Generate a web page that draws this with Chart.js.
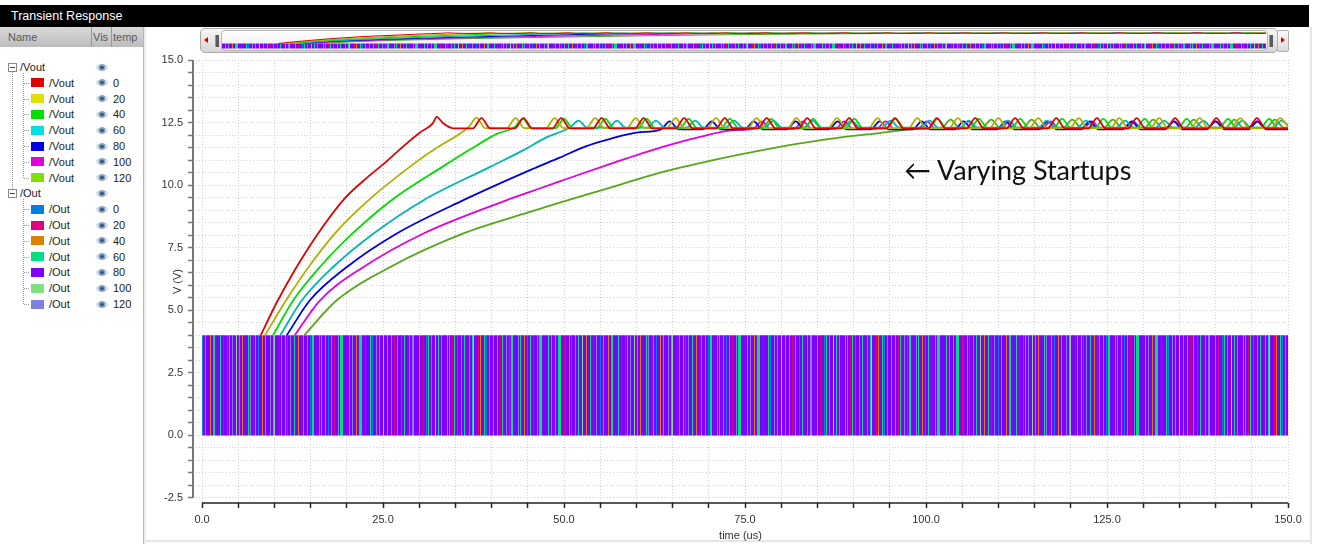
<!DOCTYPE html>
<html>
<head>
<meta charset="utf-8">
<script src="https://cdn.jsdelivr.net/npm/chart.js@4/dist/chart.umd.min.js"></script>
<style>
  html, body { margin: 0; padding: 0; background: #fff; }
  body { width: 1317px; height: 544px; position: relative; overflow: hidden; font-family: "Liberation Sans", Arial, sans-serif; }
  #titlebar { position: absolute; left: 0; top: 5px; width: 1309px; height: 22px; background: #000; color: #fff;
              font-size: 12.5px; line-height: 22px; padding-left: 11px; box-sizing: border-box; }
  #hdr { position: absolute; left: 0; top: 27px; width: 143px; height: 20px; background: linear-gradient(#d9d9d9, #bcbcbc);
         font-size: 11px; color: #5a5a5a; line-height: 20px; }
  #hdr span { position: absolute; top: 0; }
  #hdr .sep { width: 1px; height: 20px; background: #9a9a9a; }
  #tree { position: absolute; left: 0; top: 0; width: 143px; height: 544px; font-size: 11px; color: #222; }
  .row { position: absolute; height: 16px; line-height: 16px; }
  .sw { position: absolute; width: 13px; height: 9px; }
  .eye { position: absolute; width: 12px; height: 7px; border-radius: 50%;
         background: radial-gradient(circle, #3a5a82 0 1.6px, #8aa3c2 2.1px 3.2px, #d3dce7 3.7px); }
  .box { position: absolute; width: 7px; height: 7px; border: 1px solid #8a8a8a; background: #fff; }
  .box:after { content: ""; position: absolute; left: 1px; top: 3px; width: 5px; height: 1px; background: #444; }
  .vline { position: absolute; width: 0; border-left: 1px dotted #9a9a9a; }
  .hline { position: absolute; height: 0; border-top: 1px dotted #9a9a9a; }
  #sepL { position: absolute; left: 143px; top: 27px; width: 1px; height: 517px; background: #b5b5b5; }
  #sepL2 { position: absolute; left: 144px; top: 27px; width: 2px; height: 517px; background: #ececec; }
  #sepR { position: absolute; left: 1310px; top: 27px; width: 2px; height: 517px; background: #e6e6e6; }
  #sepB { position: absolute; left: 146px; top: 540px; width: 1166px; height: 2px; background: #e6e6e6; }
  #scroll { position: absolute; left: 200px; top: 28px; width: 1076px; height: 23px; border: 1px solid #a9a9a9; border-radius: 5px;
            background: linear-gradient(#f7f7f7, #d6d6d6); }
  #track { position: absolute; left: 221px; top: 30px; width: 1045px; height: 19px; border: 1px solid #b9b9b9; border-radius: 4px;
           background: linear-gradient(#ffffff, #ececec); }
  .grip { position: absolute; top: 35px; width: 3px; height: 12px; background: #5a5a5a; border-left: 1px solid #999; }
  #btnR { position: absolute; left: 1277px; top: 30px; width: 10px; height: 20px; border: 1px solid #b0b0b0; border-radius: 2px;
          background: linear-gradient(#fafafa, #dcdcdc); }
  .arrL { position: absolute; left: 204px; top: 37px; width: 0; height: 0; border-right: 4px solid #e00000;
          border-top: 3px solid transparent; border-bottom: 3px solid transparent; }
  .arrR { position: absolute; left: 1281px; top: 37px; width: 0; height: 0; border-left: 4px solid #e00000;
          border-top: 3px solid transparent; border-bottom: 3px solid transparent; }
  #mini { position: absolute; left: 222px; top: 31px; }
  #main { position: absolute; left: 147px; top: 53px; }
  #note { position: absolute; left: 904px; top: 153px; font-family: Lato, "DejaVu Sans", sans-serif; font-size: 27px; color: #111; white-space: nowrap; }
</style>
</head>
<body>
<div id="titlebar">Transient Response</div>
<div id="tree"></div>
<div id="hdr">
  <span style="left:8px">Name</span>
  <span class="sep" style="left:91px"></span>
  <span style="left:93px">Vis</span>
  <span class="sep" style="left:111px"></span>
  <span style="left:113px">temp</span>
</div>
<div id="sepL"></div><div id="sepL2"></div><div id="sepR"></div><div id="sepB"></div>

<div id="scroll"></div>
<span class="arrL"></span>
<div class="grip" style="left:215px"></div>
<div id="track"></div>
<canvas id="mini" width="1044" height="18"></canvas>
<div class="grip" style="left:1269px"></div>
<div id="btnR"></div>
<span class="arrR"></span>

<canvas id="main" width="1163" height="491"></canvas>
<div id="note">&#8592; Varying Startups</div>

<script>
// temperatures of the sweep (legend "temp" column)
const TEMPS = [0, 20, 40, 60, 80, 100, 120];

// legend swatch colours
const VOUT_COLORS = ['#e00000', '#e0e000', '#00e000', '#00e0e0', '#0000e0', '#e000e0', '#80e000'];
const OUT_COLORS = ['#0080e0', '#e0007f', '#e08000', '#00e080', '#8000ff', '#80e080', '#8080e0'];
// the traces look a bit darker than the swatches
const VOUT_LINE_COLORS = ['#e00000', '#b0b000', '#00dd00', '#00b4b8', '#0000e0', '#e000e0', '#56a818'];

// /Vout per temperature: [time (us), V]
const VOUT_0 = [[8.1,4.0],[10.3,5.3],[12.9,6.65],[16.1,8.1],[19.8,9.5],[22.8,10.3],[25.5,10.95],[27.8,11.55],[30.1,12.1],[31.9,12.48],[32.4,12.73],[33.3,12.47],[34.7,12.27],
  [37.4,12.27],[38.6,12.68],[39.8,12.27],[43.2,12.27],[44.4,12.68],[45.6,12.27],[48.4,12.27],[49.6,12.68],[50.8,12.27],
  [54.0,12.27],[55.2,12.68],[56.4,12.27],[59.8,12.27],[61.0,12.68],[62.2,12.27],[65.4,12.27],[66.6,12.68],[67.8,12.27],
  [71.0,12.27],[72.2,12.68],[73.4,12.27],[76.8,12.27],[78.0,12.68],[79.2,12.27],[82.4,12.27],[83.6,12.68],[84.8,12.27],
  [88.2,12.27],[89.4,12.68],[90.6,12.27],[94.5,12.27],[95.7,12.68],[96.9,12.27],[100.3,12.27],[101.5,12.68],[102.7,12.27],
  [105.6,12.27],[106.8,12.68],[108.0,12.27],[111.1,12.27],[112.3,12.68],[113.5,12.27],[116.8,12.27],[118.0,12.68],[119.2,12.27],
  [122.4,12.27],[123.6,12.68],[124.8,12.27],[127.9,12.27],[129.1,12.68],[130.3,12.27],[133.2,12.27],[134.4,12.68],[135.6,12.27],
  [138.9,12.27],[140.1,12.68],[141.3,12.27],[144.5,12.27],[145.7,12.68],[146.9,12.27],[150.0,12.27]];

const VOUT_20 = [[8.7,4.0],[11.5,5.35],[14.9,6.8],[18.6,8.15],[23.2,9.45],[29.0,10.8],[32.2,11.45],[36.1,12.15],[37.0,12.38],[37.9,12.7],[39.1,12.28],
  [42.1,12.28],[43.3,12.68],[44.5,12.28],[47.5,12.28],[48.7,12.68],[49.9,12.28],[53.1,12.28],[54.3,12.68],[55.5,12.28],
  [58.7,12.28],[59.9,12.68],[61.1,12.28],[64.2,12.28],[65.4,12.68],[66.6,12.28],[69.8,12.28],[71.0,12.68],[72.2,12.28],
  [75.4,12.28],[76.6,12.68],[77.8,12.28],[80.9,12.28],[82.1,12.68],[83.3,12.28],[86.5,12.28],[87.7,12.68],[88.9,12.28],
  [92.1,12.28],[93.3,12.68],[94.5,12.28],[97.6,12.28],[98.8,12.68],[100.0,12.28],[103.2,12.28],[104.4,12.68],[105.6,12.28],
  [108.8,12.28],[110.0,12.68],[111.2,12.28],[114.3,12.28],[115.5,12.68],[116.7,12.28],[119.9,12.28],[121.1,12.68],[122.3,12.28],
  [125.5,12.28],[126.7,12.68],[127.9,12.28],[131.0,12.28],[132.2,12.68],[133.4,12.28],[136.6,12.28],[137.8,12.68],[139.0,12.28],
  [142.2,12.28],[143.4,12.68],[144.6,12.28],[147.7,12.28],[148.9,12.68],[150.0,12.35]];

const VOUT_40 = [[9.8,4.0],[12.6,5.4],[16.5,6.8],[20.9,8.1],[26.4,9.45],[33.3,10.75],[37.0,11.42],[40.7,12.05],[43.1,12.3],[44.3,12.65],[45.5,12.27],
  [48.8,12.27],[50.0,12.65],[51.2,12.27],[54.5,12.27],[55.7,12.65],[56.9,12.27],[60.2,12.27],[61.4,12.65],[62.6,12.27],
  [66.0,12.27],[67.2,12.65],[68.4,12.27],[71.7,12.27],[72.9,12.65],[74.1,12.27],[77.4,12.27],[78.6,12.65],[79.8,12.27],
  [83.2,12.27],[84.4,12.65],[85.6,12.27],[88.9,12.27],[90.1,12.65],[91.3,12.27],[94.6,12.27],[95.8,12.65],[97.0,12.27],
  [100.4,12.27],[101.6,12.65],[102.8,12.27],[106.1,12.27],[107.3,12.65],[108.5,12.27],[111.8,12.27],[113.0,12.65],[114.2,12.27],
  [117.6,12.27],[118.8,12.65],[120.0,12.27],[123.3,12.27],[124.5,12.65],[125.7,12.27],[129.0,12.27],[130.2,12.65],[131.4,12.27],
  [134.8,12.27],[136.0,12.65],[137.2,12.27],[140.5,12.27],[141.7,12.65],[142.9,12.27],[146.2,12.27],[147.4,12.65],[148.6,12.27],
  [150.0,12.27]];

const VOUT_60 = [[10.8,4.0],[13.8,5.4],[18.1,6.73],[23.7,8.07],[30.6,9.4],[39.8,10.73],[44.4,11.4],[47.5,11.9],[50.8,12.3],[52.0,12.58],[53.2,12.3],
  [56.1,12.3],[57.3,12.58],[58.5,12.3],[61.5,12.3],[62.7,12.58],[63.9,12.3],[66.9,12.3],[68.1,12.58],[69.3,12.3],
  [72.3,12.3],[73.5,12.58],[74.7,12.3],[77.7,12.3],[78.9,12.58],[80.1,12.3],[83.1,12.3],[84.3,12.58],[85.5,12.3],
  [88.5,12.3],[89.7,12.58],[90.9,12.3],[93.9,12.3],[95.1,12.58],[96.3,12.3],[99.3,12.3],[100.5,12.58],[101.7,12.3],
  [104.7,12.3],[105.9,12.58],[107.1,12.3],[110.1,12.3],[111.3,12.58],[112.5,12.3],[115.5,12.3],[116.7,12.58],[117.9,12.3],
  [120.9,12.3],[122.1,12.58],[123.3,12.3],[126.3,12.3],[127.5,12.58],[128.7,12.3],[131.7,12.3],[132.9,12.58],[134.1,12.3],
  [137.1,12.3],[138.3,12.58],[139.5,12.3],[142.5,12.3],[143.7,12.58],[144.9,12.3],[147.9,12.3],[149.1,12.58],[150.0,12.4]];

const VOUT_80 = [[11.7,4.0],[14.9,5.4],[20.0,6.73],[26.9,8.07],[36.1,9.4],[45.3,10.6],[49.4,11.1],[53.0,11.55],[56.4,11.85],[60.0,12.1],[63.4,12.23],[64.6,12.55],[65.8,12.23],
  [69.2,12.23],[70.4,12.55],[71.6,12.23],[75.0,12.23],[76.2,12.55],[77.4,12.23],[80.8,12.23],[82.0,12.55],[83.2,12.23],
  [86.6,12.23],[87.8,12.55],[89.0,12.23],[92.4,12.23],[93.6,12.55],[94.8,12.23],[98.2,12.23],[99.4,12.55],[100.6,12.23],
  [104.0,12.23],[105.2,12.55],[106.4,12.23],[109.8,12.23],[111.0,12.55],[112.2,12.23],[115.6,12.23],[116.8,12.55],[118.0,12.23],
  [121.4,12.23],[122.6,12.55],[123.8,12.23],[127.2,12.23],[128.4,12.55],[129.6,12.23],[133.0,12.23],[134.2,12.55],[135.4,12.23],
  [138.8,12.23],[140.0,12.55],[141.2,12.23],[144.6,12.23],[145.8,12.55],[147.0,12.23],[150.0,12.23]];

const VOUT_100 = [[12.8,4.0],[16.3,5.4],[22.3,6.73],[30.6,8.07],[42.1,9.4],[45.3,9.73],[49.4,10.15],[56.4,10.85],[63.3,11.5],[68.8,11.93],[73.4,12.2],[76.1,12.25],[77.3,12.55],[78.5,12.25],
  [81.8,12.25],[83.0,12.55],[84.2,12.25],[87.5,12.25],[88.7,12.55],[89.9,12.25],[93.2,12.25],[94.4,12.55],[95.6,12.25],
  [98.9,12.25],[100.1,12.55],[101.3,12.25],[104.6,12.25],[105.8,12.55],[107.0,12.25],[110.3,12.25],[111.5,12.55],[112.7,12.25],
  [116.0,12.25],[117.2,12.55],[118.4,12.25],[121.7,12.25],[122.9,12.55],[124.1,12.25],[127.4,12.25],[128.6,12.55],[129.8,12.25],
  [133.1,12.25],[134.3,12.55],[135.5,12.25],[138.8,12.25],[140.0,12.55],[141.2,12.25],[144.5,12.25],[145.7,12.55],[146.9,12.25],
  [150.0,12.25]];

const VOUT_120 = [[14.1,4.0],[18.6,5.4],[26.0,6.73],[36.1,8.07],[45.3,8.93],[49.4,9.3],[56.4,9.9],[63.3,10.5],[70.6,11.0],[76.5,11.35],[82.6,11.67],[88.0,11.9],[93.6,12.08],[99.0,12.25],
  [102.2,12.3],[103.4,12.62],[104.6,12.3],[107.8,12.3],[109.0,12.62],[110.2,12.3],[113.4,12.3],[114.6,12.62],[115.8,12.3],
  [119.0,12.3],[120.2,12.62],[121.4,12.3],[124.6,12.3],[125.8,12.62],[127.0,12.3],[130.2,12.3],[131.4,12.62],[132.6,12.3],
  [135.8,12.3],[137.0,12.62],[138.2,12.3],[141.4,12.3],[142.6,12.62],[143.8,12.3],[147.0,12.3],[148.2,12.62],[149.4,12.3],
  [150.0,12.3]];

const VOUT_SERIES = [VOUT_0, VOUT_20, VOUT_40, VOUT_60, VOUT_80, VOUT_100, VOUT_120];

// /Out: switching between 0 V and 4 V over the whole run
const OUT_TIMES = [0, 150];
const OUT_HIGH = 4.0;
const OUT_LOW = 0.0;

// axis labels
const X_LABELS = [0, 25, 50, 75, 100, 125, 150];
const Y_LABELS = [-2.5, 0, 2.5, 5, 7.5, 10, 12.5, 15];

// stripe layout of the dense switching band (one char = one pixel column)
// b=0 k=20 o=40 g=60 p=80 l=100 v=120
const BAND_STRIPES =
  'pppgppvpppoppgggpppkppppgpbpppvppgppplpppopppgppkppvpppbppgppppoppvgpppppgppkpppbpgppvppplppgppopppppgpvppkpgppbpppopp' +
  'gppppvppglppppkpopppgpbppvpppgpppoppkpgpppvppbpggpppppvpgpppoppbppgppkpppvpgggppp';
const STRIPE_KEYS = ['b', 'k', 'o', 'g', 'p', 'l', 'v'];

function stripePattern(ctx, key, color) {
  const c = document.createElement('canvas');
  c.width = BAND_STRIPES.length;
  c.height = 4;
  const g = c.getContext('2d');
  g.fillStyle = color;
  for (let i = 0; i < BAND_STRIPES.length; i++) {
    if (BAND_STRIPES[i] === key) g.fillRect(i, 0, 1, 4);
  }
  return ctx.createPattern(c, 'repeat');
}

function buildDatasets(ctx, lineWidth) {
  const sets = [];
  // Vout first so they sit on top of the band
  VOUT_SERIES.forEach((d, i) => {
    sets.push({
      label: '/Vout ' + TEMPS[i],
      data: d,
      borderColor: VOUT_LINE_COLORS[i],
      borderWidth: lineWidth,
      pointRadius: 0,
      fill: false,
      cubicInterpolationMode: 'monotone'
    });
  });
  TEMPS.forEach((t, i) => {
    sets.push({
      label: '/Out ' + t,
      data: OUT_TIMES.map(x => [x, OUT_HIGH]),
      borderColor: 'rgba(0,0,0,0)',
      borderWidth: 0,
      pointRadius: 0,
      fill: { value: OUT_LOW },
      backgroundColor: stripePattern(ctx, STRIPE_KEYS[i], OUT_COLORS[i])
    });
  });
  return sets;
}

// ---- left tree panel ----
function buildTree() {
  const tree = document.getElementById('tree');
  const ROW_H = 15.8;
  let html = '';
  let y = 67;
  [['/Vout', VOUT_COLORS], ['/Out', OUT_COLORS]].forEach(([name, colors]) => {
    const gy = y;
    html += `<div class="box" style="left:8px;top:${gy - 4}px"></div>`;
    html += `<div class="row" style="left:20px;top:${gy - 8}px">${name}</div>`;
    html += `<div class="eye" style="left:96px;top:${gy - 3.5}px"></div>`;
    y += ROW_H;
    TEMPS.forEach((t, i) => {
      html += `<div class="hline" style="left:24px;top:${Math.round(y)}px;width:5px"></div>`;
      html += `<div class="sw" style="left:31px;top:${y - 4.5}px;background:${colors[i]}"></div>`;
      html += `<div class="row" style="left:49px;top:${y - 8}px">${name}</div>`;
      html += `<div class="eye" style="left:96px;top:${y - 3.5}px"></div>`;
      html += `<div class="row" style="left:113px;top:${y - 8}px">${t}</div>`;
      y += ROW_H;
    });
    html += `<div class="vline" style="left:23px;top:${gy + 6}px;height:${y - ROW_H - gy - 6}px"></div>`;
  });
  html += `<div class="vline" style="left:12px;top:72px;height:117px"></div>`;
  tree.innerHTML = html;
}
buildTree();

// ---- main chart ----
Chart.defaults.font.family = '"Liberation Sans", Arial, sans-serif';
Chart.defaults.font.size = 11;
Chart.defaults.color = '#333';

// axis lines only span the labelled range (0..150 us, -2.5..15 V), as in the viewer
const detachedAxes = {
  id: 'detachedAxes',
  afterDraw(chart) {
    const { ctx, chartArea, scales: { x, y } } = chart;
    ctx.save();
    ctx.lineWidth = 1.5;
    ctx.strokeStyle = '#222';
    ctx.beginPath();
    ctx.moveTo(x.getPixelForValue(X_LABELS[0]), chartArea.bottom);
    ctx.lineTo(x.getPixelForValue(X_LABELS[X_LABELS.length - 1]), chartArea.bottom);
    ctx.stroke();
    ctx.lineWidth = 2;
    ctx.strokeStyle = '#777';
    ctx.beginPath();
    ctx.moveTo(chartArea.left, y.getPixelForValue(Y_LABELS[0]));
    ctx.lineTo(chartArea.left, y.getPixelForValue(Y_LABELS[Y_LABELS.length - 1]));
    ctx.stroke();
    ctx.restore();
  }
};

const mainCtx = document.getElementById('main').getContext('2d');
new Chart(mainCtx, {
  type: 'line',
  data: { datasets: buildDatasets(mainCtx, 1.8) },
  plugins: [detachedAxes],
  options: {
    responsive: false,
    animation: false,
    events: [],
    layout: { padding: { top: 7, right: 22, left: 0, bottom: 0 } },
    plugins: { legend: { display: false }, tooltip: { enabled: false } },
    scales: {
      x: {
        type: 'linear',
        min: -1.25,
        max: 150,
        afterBuildTicks: (s) => {
          const t = [];
          for (let v = 0; v <= 150; v += 5) t.push({ value: v });
          s.ticks = t;
        },
        afterFit: (s) => { s.height = 41; s.paddingLeft = 0; s.paddingRight = 0; },
        ticks: {
          autoSkip: false,
          maxRotation: 0,
          padding: 5,
          color: '#333',
          callback: (v) => X_LABELS.some(l => Math.abs(v - l) < 1e-6) ? v.toFixed(1) : ''
        },
        grid: { color: '#cfcfcf', lineWidth: 1, tickLength: 5, tickColor: '#222', tickWidth: 1.5 },
        border: { display: false, dash: [1, 2] },
        title: { display: true, text: 'time (us)', color: '#333', padding: { top: 0, bottom: 1 } }
      },
      y: {
        type: 'linear',
        min: -2.7,
        max: 15,
        afterBuildTicks: (s) => {
          const t = [];
          for (let i = 0; i <= 35; i++) t.push({ value: Math.round((-2.5 + i * 0.5) * 10) / 10 });
          s.ticks = t;
        },
        afterFit: (s) => { s.width = 46; s.paddingTop = 0; s.paddingBottom = 0; },
        ticks: {
          autoSkip: false,
          padding: 5,
          color: '#333',
          callback: (v) => Y_LABELS.some(l => Math.abs(v - l) < 1e-6) ? v.toFixed(1) : ''
        },
        grid: { color: '#cfcfcf', lineWidth: 1, tickLength: 5, tickColor: '#777', tickWidth: 1.5 },
        border: { display: false, dash: [1, 2] },
        title: { display: true, text: 'V (V)', color: '#333', padding: { top: 24, bottom: 0 } }
      }
    }
  }
});

// ---- overview strip in the scroll bar ----
const miniCtx = document.getElementById('mini').getContext('2d');
new Chart(miniCtx, {
  type: 'line',
  data: { datasets: buildDatasets(miniCtx, 1) },
  options: {
    responsive: false,
    animation: false,
    events: [],
    layout: { padding: 0 },
    plugins: { legend: { display: false }, tooltip: { enabled: false } },
    scales: {
      x: { type: 'linear', min: 0, max: 150, display: false },
      y: { type: 'linear', min: -0.5, max: 14.2, display: false }
    }
  }
});
</script>
</body>
</html>
